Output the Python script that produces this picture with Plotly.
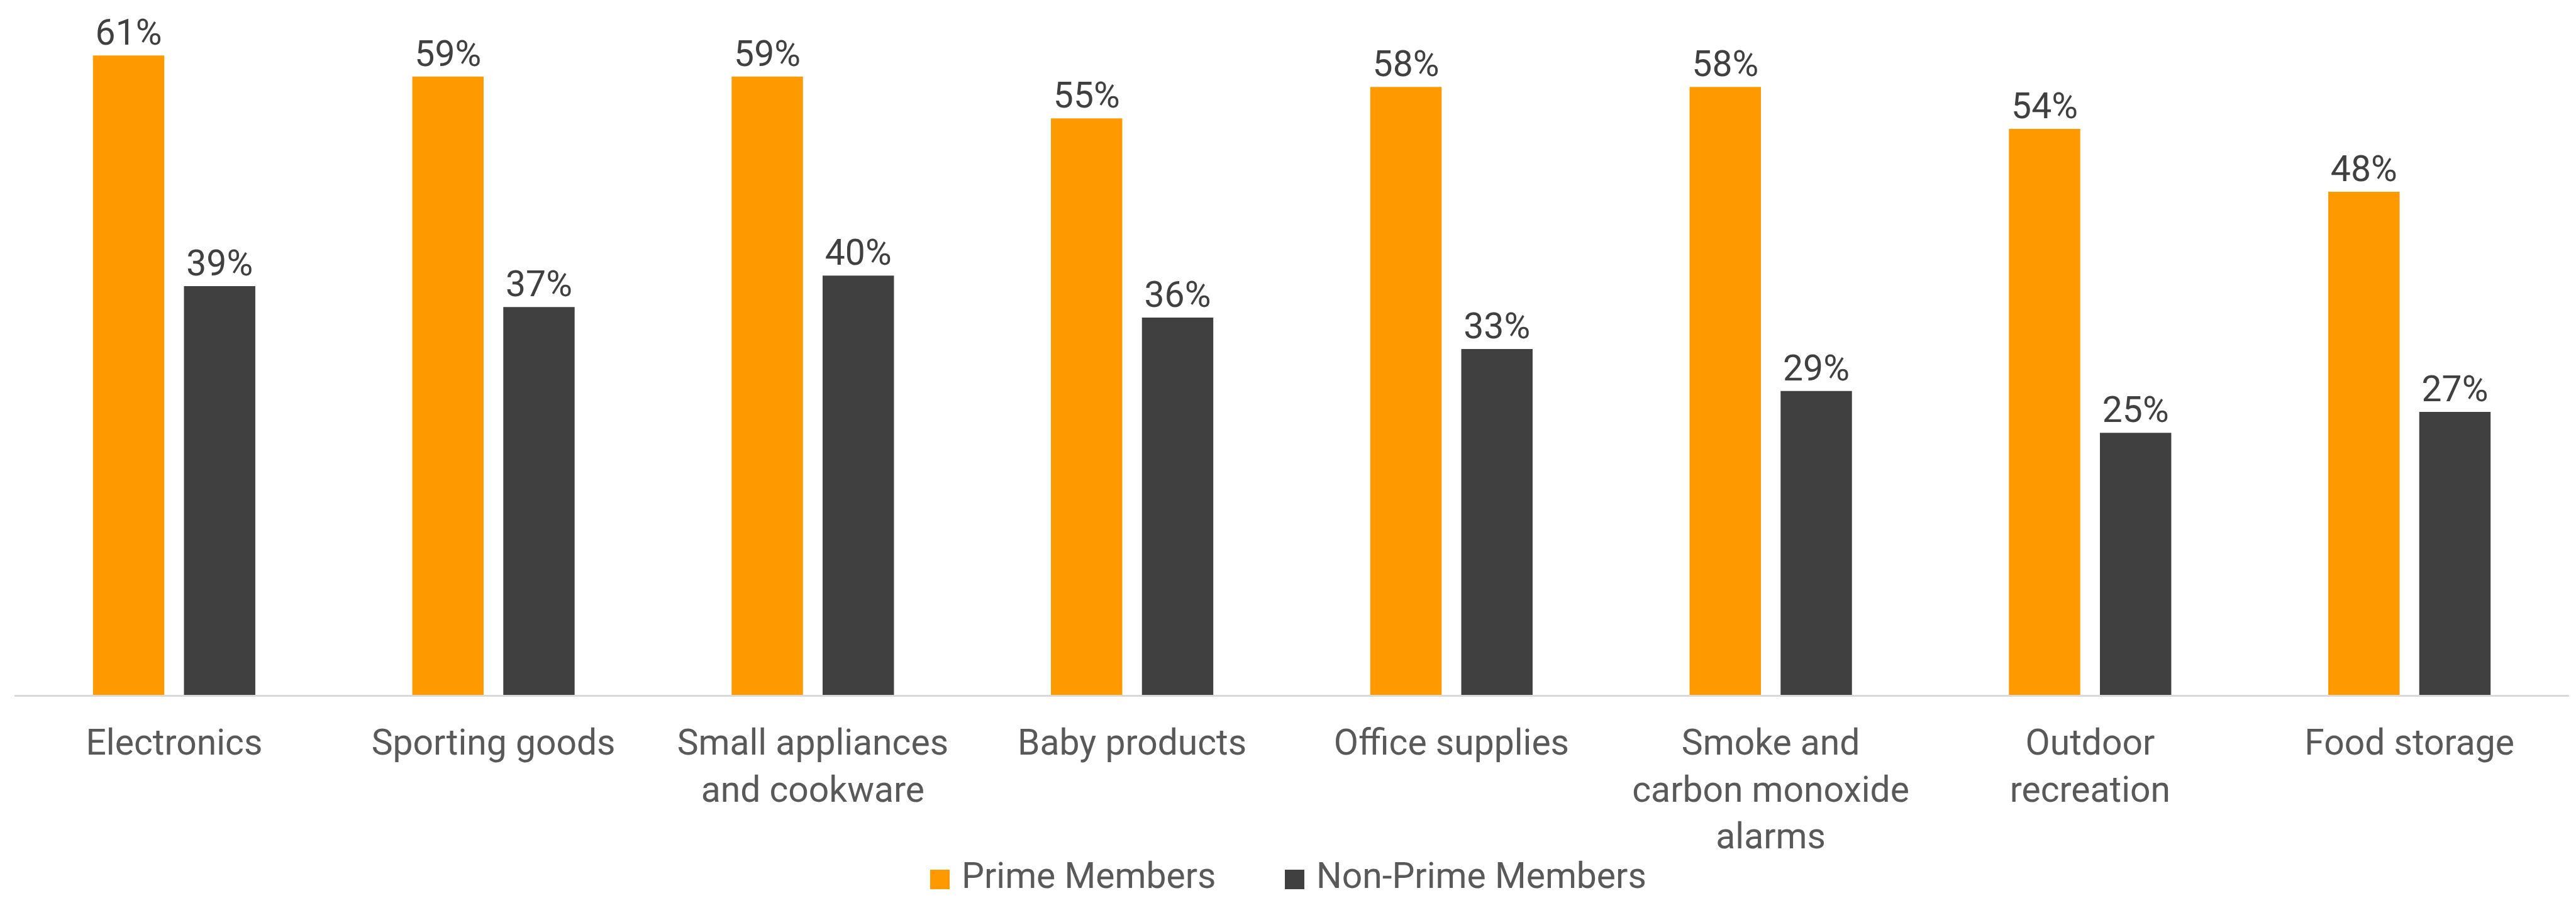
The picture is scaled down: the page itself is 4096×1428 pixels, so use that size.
import plotly.graph_objects as go

categories = [
    "Electronics",
    "Sporting goods",
    "Small appliances<br>and cookware",
    "Baby products",
    "Office supplies",
    "Smoke and<br>carbon monoxide<br>alarms",
    "Outdoor<br>recreation",
    "Food storage",
]
prime_members = [61, 59, 59, 55, 58, 58, 54, 48]
non_prime_members = [39, 37, 40, 36, 33, 29, 25, 27]
series_names = ["Prime Members", "Non-Prime Members"]

ORANGE = "#FF9900"
DARK = "#404040"
LABEL_GREY = "#595959"
FONT = "Roboto"
FS = 57

W, H = 4096, 1428
ML, MR, MT, MB = 23, 11, 5, 323

fig = go.Figure()
for name, vals, col in [(series_names[0], prime_members, ORANGE),
                        (series_names[1], non_prime_members, DARK)]:
    fig.add_trace(go.Bar(
        x=categories, y=vals, name=name,
        marker=dict(color=col, line=dict(width=0)),
        text=[f"{v}%" for v in vals],
        textposition="outside",
        textfont=dict(family=FONT, size=FS, color="#404040"),
        constraintext="none",
        cliponaxis=False,
        showlegend=False,
    ))

# legend drawn as swatches + labels below the category axis
pw = W - ML - MR
ph = H - MT - MB


def px_x(p):
    return (p - ML) / pw


def px_y(p):
    return (H - MB - p) / ph


legend_items = [
    (series_names[0], ORANGE, 1479, 1527),
    (series_names[1], DARK, 2043, 2091),
]
for name, col, sx, tx in legend_items:
    fig.add_shape(type="rect", xref="paper", yref="paper",
                  x0=px_x(sx), x1=px_x(sx + 31),
                  y0=px_y(1414), y1=px_y(1383),
                  fillcolor=col, line=dict(width=0))
    fig.add_annotation(xref="paper", yref="paper",
                       x=px_x(tx), y=px_y(1392),
                       xanchor="left", yanchor="middle",
                       text=name, showarrow=False,
                       font=dict(family=FONT, size=FS, color=LABEL_GREY))

fig.update_layout(
    width=W, height=H,
    margin=dict(l=ML, r=MR, t=MT, b=MB),
    paper_bgcolor="white", plot_bgcolor="white",
    barmode="group", bargap=0.43, bargroupgap=0.216,
    font=dict(family=FONT, size=FS, color=LABEL_GREY),
)
fig.update_xaxes(
    showline=True, linecolor="#D9D9D9", linewidth=3,
    showgrid=False, ticks="", ticklabelstandoff=24,
    tickfont=dict(family=FONT, size=FS, color=LABEL_GREY),
    tickangle=0,
)
fig.update_yaxes(
    range=[0, 66], visible=False, showgrid=False, zeroline=False,
)

fig.write_html("out.html")
